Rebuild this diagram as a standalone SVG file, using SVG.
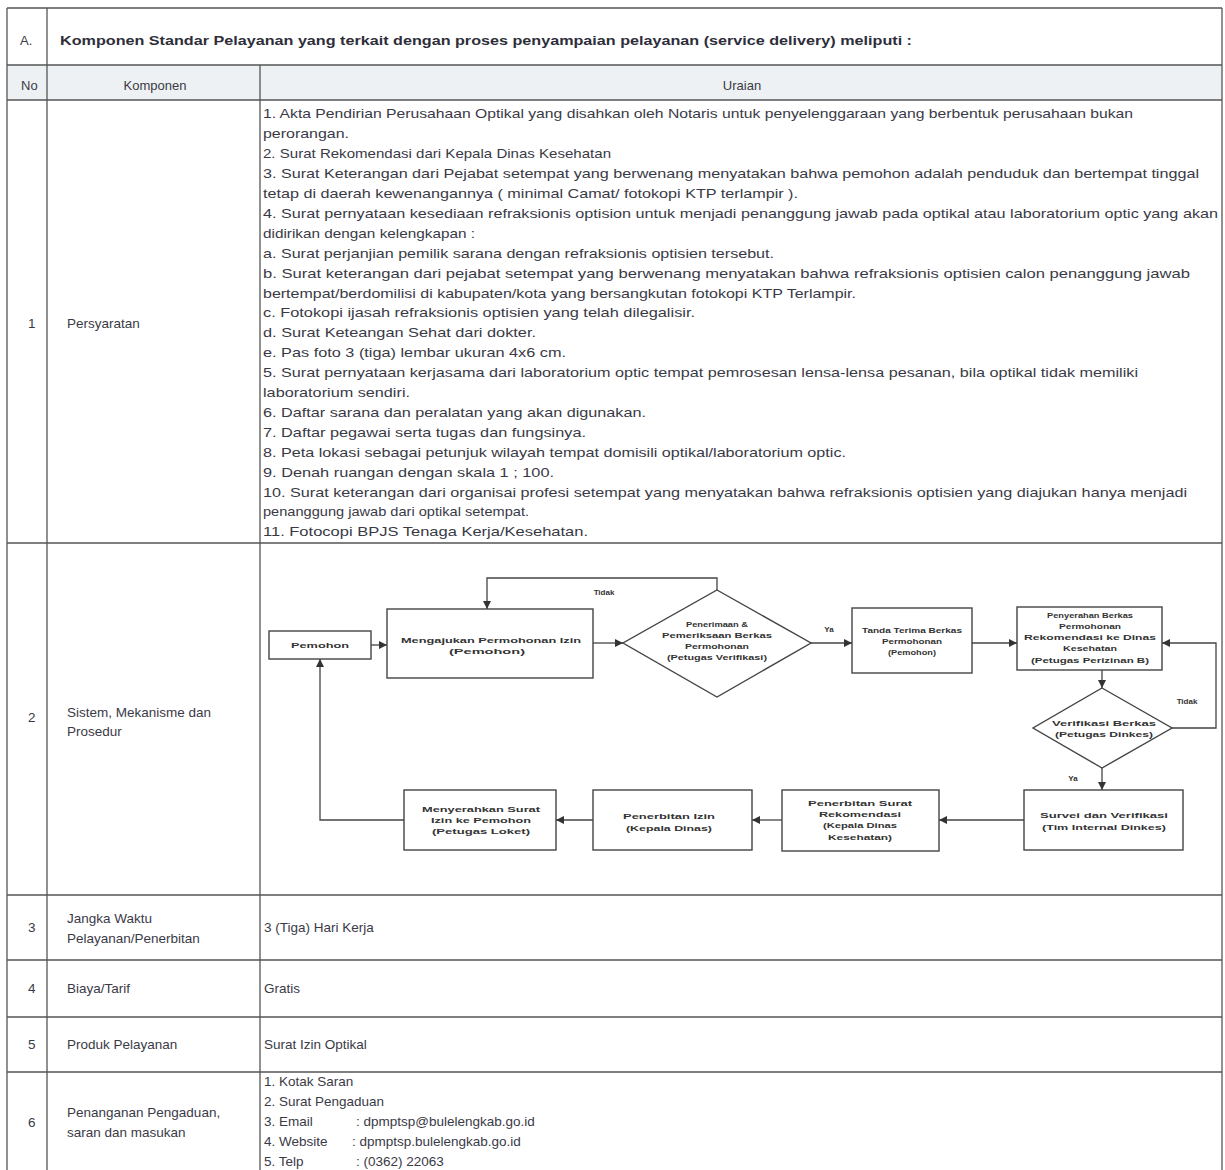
<svg xmlns="http://www.w3.org/2000/svg" width="1225" height="1170" viewBox="0 0 1225 1170">
<style>
.grid{stroke:#555;stroke-width:1.3;fill:none}
.t{font-family:"Liberation Sans",Arial,sans-serif;font-size:13px;fill:#3a3a46}
.h{font-family:"Liberation Sans",Arial,sans-serif;font-size:13px;fill:#2e2e3a;font-weight:bold}
.c{font-family:"Liberation Sans",Arial,sans-serif;font-size:13.5px;fill:#3a3a46}
.f{font-family:"Liberation Sans",Arial,sans-serif;font-size:8px;font-weight:bold;fill:#333;text-anchor:middle}
.box{fill:#fff;stroke:#444;stroke-width:1.4}
.ln{fill:none;stroke:#444;stroke-width:1.3}
</style>
<defs>
<marker id="ar" viewBox="0 0 10 10" refX="10" refY="5" markerWidth="8" markerHeight="8" markerUnits="userSpaceOnUse" orient="auto">
<path d="M0,0 L10,5 L0,10 z" fill="#333"/>
</marker>
</defs>
<rect width="1225" height="1170" fill="#fff"/>
<g id="table">
<rect x="7" y="65" width="1215" height="35" fill="#eef1f3"/>
<line class="grid" x1="7" y1="8" x2="1222" y2="8" stroke-width="2"/>
<line class="grid" x1="7" y1="65" x2="1222" y2="65" stroke-width="2"/>
<line class="grid" x1="7" y1="100" x2="1222" y2="100" stroke-width="2"/>
<line class="grid" x1="7" y1="543" x2="1222" y2="543"/>
<line class="grid" x1="7" y1="895" x2="1222" y2="895"/>
<line class="grid" x1="7" y1="960" x2="1222" y2="960"/>
<line class="grid" x1="7" y1="1017" x2="1222" y2="1017"/>
<line class="grid" x1="7" y1="1072" x2="1222" y2="1072"/>
<line class="grid" x1="7" y1="8" x2="7" y2="1170"/>
<line class="grid" x1="47" y1="8" x2="47" y2="1170"/>
<line class="grid" x1="260" y1="65" x2="260" y2="1170"/>
<line class="grid" x1="1222" y1="8" x2="1222" y2="1170" stroke="#999"/>
</g>
<g id="header">
<text class="t" x="20" y="45">A.</text>
<text class="h" x="60" y="45" textLength="852" lengthAdjust="spacingAndGlyphs">Komponen Standar Pelayanan yang terkait dengan proses penyampaian pelayanan (service delivery) meliputi :</text>
<text class="t" x="21" y="90">No</text>
<text class="t" x="155" y="90" text-anchor="middle">Komponen</text>
<text class="t" x="742" y="90" text-anchor="middle">Uraian</text>
</g>
<g id="row1">
<text class="c" x="28" y="328">1</text>
<text class="c" x="67" y="328">Persyaratan</text>
<text class="t" x="263" y="118" textLength="870" lengthAdjust="spacingAndGlyphs">1. Akta Pendirian Perusahaan Optikal yang disahkan oleh Notaris untuk penyelenggaraan yang berbentuk perusahaan bukan</text>
<text class="t" x="263" y="138" textLength="86" lengthAdjust="spacingAndGlyphs">perorangan.</text>
<text class="t" x="263" y="158" textLength="348" lengthAdjust="spacingAndGlyphs">2. Surat Rekomendasi dari Kepala Dinas Kesehatan</text>
<text class="t" x="263" y="178" textLength="936" lengthAdjust="spacingAndGlyphs">3. Surat Keterangan dari Pejabat setempat yang berwenang menyatakan bahwa pemohon adalah penduduk dan bertempat tinggal</text>
<text class="t" x="263" y="198" textLength="535" lengthAdjust="spacingAndGlyphs">tetap di daerah kewenangannya ( minimal Camat/ fotokopi KTP terlampir ).</text>
<text class="t" x="263" y="218" textLength="955" lengthAdjust="spacingAndGlyphs">4. Surat pernyataan kesediaan refraksionis optision untuk menjadi penanggung jawab pada optikal atau laboratorium optic yang akan</text>
<text class="t" x="263" y="238" textLength="212" lengthAdjust="spacingAndGlyphs">didirikan dengan kelengkapan :</text>
<text class="t" x="263" y="258" textLength="511" lengthAdjust="spacingAndGlyphs">a. Surat perjanjian pemilik sarana dengan refraksionis optisien tersebut.</text>
<text class="t" x="263" y="278" textLength="927" lengthAdjust="spacingAndGlyphs">b. Surat keterangan dari pejabat setempat yang berwenang menyatakan bahwa refraksionis optisien calon penanggung jawab</text>
<text class="t" x="263" y="298" textLength="593" lengthAdjust="spacingAndGlyphs">bertempat/berdomilisi di kabupaten/kota yang bersangkutan fotokopi KTP Terlampir.</text>
<text class="t" x="263" y="317" textLength="432" lengthAdjust="spacingAndGlyphs">c. Fotokopi ijasah refraksionis optisien yang telah dilegalisir.</text>
<text class="t" x="263" y="337" textLength="273" lengthAdjust="spacingAndGlyphs">d. Surat Keteangan Sehat dari dokter.</text>
<text class="t" x="263" y="357" textLength="303" lengthAdjust="spacingAndGlyphs">e. Pas foto 3 (tiga) lembar ukuran 4x6 cm.</text>
<text class="t" x="263" y="377" textLength="875" lengthAdjust="spacingAndGlyphs">5. Surat pernyataan kerjasama dari laboratorium optic tempat pemrosesan lensa-lensa pesanan, bila optikal tidak memiliki</text>
<text class="t" x="263" y="397" textLength="147" lengthAdjust="spacingAndGlyphs">laboratorium sendiri.</text>
<text class="t" x="263" y="417" textLength="383" lengthAdjust="spacingAndGlyphs">6. Daftar sarana dan peralatan yang akan digunakan.</text>
<text class="t" x="263" y="437" textLength="323" lengthAdjust="spacingAndGlyphs">7. Daftar pegawai serta tugas dan fungsinya.</text>
<text class="t" x="263" y="457" textLength="583" lengthAdjust="spacingAndGlyphs">8. Peta lokasi sebagai petunjuk wilayah tempat domisili optikal/laboratorium optic.</text>
<text class="t" x="263" y="477" textLength="291" lengthAdjust="spacingAndGlyphs">9. Denah ruangan dengan skala 1 ; 100.</text>
<text class="t" x="263" y="497" textLength="924" lengthAdjust="spacingAndGlyphs">10. Surat keterangan dari organisai profesi setempat yang menyatakan bahwa refraksionis optisien yang diajukan hanya menjadi</text>
<text class="t" x="263" y="516" textLength="266" lengthAdjust="spacingAndGlyphs">penanggung jawab dari optikal setempat.</text>
<text class="t" x="263" y="536" textLength="325" lengthAdjust="spacingAndGlyphs">11. Fotocopi BPJS Tenaga Kerja/Kesehatan.</text>
</g>
<g id="row2">
<text class="c" x="28" y="722">2</text>
<text class="c" x="67" y="717">Sistem, Mekanisme dan</text>
<text class="c" x="67" y="736">Prosedur</text>
</g>
<g id="row3">
<text class="c" x="28" y="932">3</text>
<text class="c" x="67" y="923">Jangka Waktu</text>
<text class="c" x="67" y="943">Pelayanan/Penerbitan</text>
<text class="c" x="264" y="932">3 (Tiga) Hari Kerja</text>
</g>
<g id="row4">
<text class="c" x="28" y="993">4</text>
<text class="c" x="67" y="993">Biaya/Tarif</text>
<text class="c" x="264" y="993">Gratis</text>
</g>
<g id="row5">
<text class="c" x="28" y="1049">5</text>
<text class="c" x="67" y="1049">Produk Pelayanan</text>
<text class="c" x="264" y="1049">Surat Izin Optikal</text>
</g>
<g id="row6">
<text class="c" x="28" y="1127">6</text>
<text class="c" x="67" y="1117">Penanganan Pengaduan,</text>
<text class="c" x="67" y="1137">saran dan masukan</text>
<text class="c" x="264" y="1086">1. Kotak Saran</text>
<text class="c" x="264" y="1106">2. Surat Pengaduan</text>
<text class="c" x="264" y="1126">3. Email</text>
<text class="c" x="356" y="1126">: dpmptsp@bulelengkab.go.id</text>
<text class="c" x="264" y="1146">4. Website</text>
<text class="c" x="352" y="1146">: dpmptsp.bulelengkab.go.id</text>
<text class="c" x="264" y="1166">5. Telp</text>
<text class="c" x="356" y="1166">: (0362) 22063</text>
</g>
<g id="connectors">
<polyline class="ln" points="717,590 717,578 487,578 487,609" marker-end="url(#ar)"/>
<line class="ln" x1="371" y1="645" x2="387" y2="645" marker-end="url(#ar)"/>
<line class="ln" x1="593" y1="643" x2="623" y2="643" marker-end="url(#ar)"/>
<line class="ln" x1="811" y1="643" x2="852" y2="643" marker-end="url(#ar)"/>
<line class="ln" x1="972" y1="643" x2="1017" y2="643" marker-end="url(#ar)"/>
<line class="ln" x1="1102" y1="670" x2="1102" y2="688" marker-end="url(#ar)"/>
<polyline class="ln" points="1172,728 1216,728 1216,643 1162,643" marker-end="url(#ar)"/>
<line class="ln" x1="1102" y1="768" x2="1102" y2="790" marker-end="url(#ar)"/>
<line class="ln" x1="1024" y1="820" x2="939" y2="820" marker-end="url(#ar)"/>
<line class="ln" x1="782" y1="820" x2="752" y2="820" marker-end="url(#ar)"/>
<line class="ln" x1="593" y1="820" x2="556" y2="820" marker-end="url(#ar)"/>
<polyline class="ln" points="404,820 320,820 320,659" marker-end="url(#ar)"/>
<text class="f" x="604" y="595">Tidak</text>
<text class="f" x="829" y="632">Ya</text>
<text class="f" x="1187" y="704">Tidak</text>
<text class="f" x="1073" y="781">Ya</text>
</g>
<g id="n-pemohon">
<rect class="box" x="269" y="631" width="102" height="28"/>
<text class="f" x="320" y="648" textLength="58" lengthAdjust="spacingAndGlyphs">Pemohon</text>
</g>
<g id="n-mengajukan">
<rect class="box" x="387" y="609" width="206" height="69"/>
<text class="f" x="491" y="643" textLength="180" lengthAdjust="spacingAndGlyphs">Mengajukan Permohonan Izin</text>
<text class="f" x="487" y="654" textLength="76" lengthAdjust="spacingAndGlyphs">(Pemohon)</text>
</g>
<g id="n-penerimaan">
<polygon class="box" points="717,590 811,643 717,697 623,643"/>
<text class="f" x="717" y="627" textLength="62" lengthAdjust="spacingAndGlyphs">Penerimaan &amp;</text>
<text class="f" x="717" y="638" textLength="110" lengthAdjust="spacingAndGlyphs">Pemeriksaan Berkas</text>
<text class="f" x="717" y="649" textLength="64" lengthAdjust="spacingAndGlyphs">Permohonan</text>
<text class="f" x="717" y="660" textLength="100" lengthAdjust="spacingAndGlyphs">(Petugas Verifikasi)</text>
</g>
<g id="n-tanda">
<rect class="box" x="852" y="608" width="120" height="65"/>
<text class="f" x="912" y="633" textLength="100" lengthAdjust="spacingAndGlyphs">Tanda Terima Berkas</text>
<text class="f" x="912" y="644" textLength="60" lengthAdjust="spacingAndGlyphs">Permohonan</text>
<text class="f" x="912" y="655" textLength="48" lengthAdjust="spacingAndGlyphs">(Pemohon)</text>
</g>
<g id="n-penyerahan">
<rect class="box" x="1017" y="607" width="145" height="63"/>
<text class="f" x="1090" y="618" textLength="86" lengthAdjust="spacingAndGlyphs">Penyerahan Berkas</text>
<text class="f" x="1090" y="629" textLength="62" lengthAdjust="spacingAndGlyphs">Permohonan</text>
<text class="f" x="1090" y="640" textLength="132" lengthAdjust="spacingAndGlyphs">Rekomendasi ke Dinas</text>
<text class="f" x="1090" y="651" textLength="54" lengthAdjust="spacingAndGlyphs">Kesehatan</text>
<text class="f" x="1090" y="663" textLength="118" lengthAdjust="spacingAndGlyphs">(Petugas Perizinan B)</text>
</g>
<g id="n-verifikasi">
<polygon class="box" points="1102,688 1172,728 1102,768 1033,728"/>
<text class="f" x="1104" y="726" textLength="104" lengthAdjust="spacingAndGlyphs">Verifikasi Berkas</text>
<text class="f" x="1104" y="737" textLength="98" lengthAdjust="spacingAndGlyphs">(Petugas Dinkes)</text>
</g>
<g id="n-survei">
<rect class="box" x="1024" y="790" width="159" height="60"/>
<text class="f" x="1104" y="818" textLength="128" lengthAdjust="spacingAndGlyphs">Survei dan Verifikasi</text>
<text class="f" x="1104" y="830" textLength="124" lengthAdjust="spacingAndGlyphs">(Tim Internal Dinkes)</text>
</g>
<g id="n-rekomendasi">
<rect class="box" x="782" y="790" width="157" height="61"/>
<text class="f" x="860" y="806" textLength="104" lengthAdjust="spacingAndGlyphs">Penerbitan Surat</text>
<text class="f" x="860" y="817" textLength="82" lengthAdjust="spacingAndGlyphs">Rekomendasi</text>
<text class="f" x="860" y="828" textLength="74" lengthAdjust="spacingAndGlyphs">(Kepala Dinas</text>
<text class="f" x="860" y="840" textLength="64" lengthAdjust="spacingAndGlyphs">Kesehatan)</text>
</g>
<g id="n-izin">
<rect class="box" x="593" y="790" width="159" height="60"/>
<text class="f" x="669" y="819" textLength="92" lengthAdjust="spacingAndGlyphs">Penerbitan Izin</text>
<text class="f" x="669" y="831" textLength="86" lengthAdjust="spacingAndGlyphs">(Kepala Dinas)</text>
</g>
<g id="n-menyerahkan">
<rect class="box" x="404" y="790" width="152" height="60"/>
<text class="f" x="481" y="812" textLength="118" lengthAdjust="spacingAndGlyphs">Menyerahkan Surat</text>
<text class="f" x="481" y="823" textLength="100" lengthAdjust="spacingAndGlyphs">Izin ke Pemohon</text>
<text class="f" x="481" y="834" textLength="98" lengthAdjust="spacingAndGlyphs">(Petugas Loket)</text>
</g>
</svg>
